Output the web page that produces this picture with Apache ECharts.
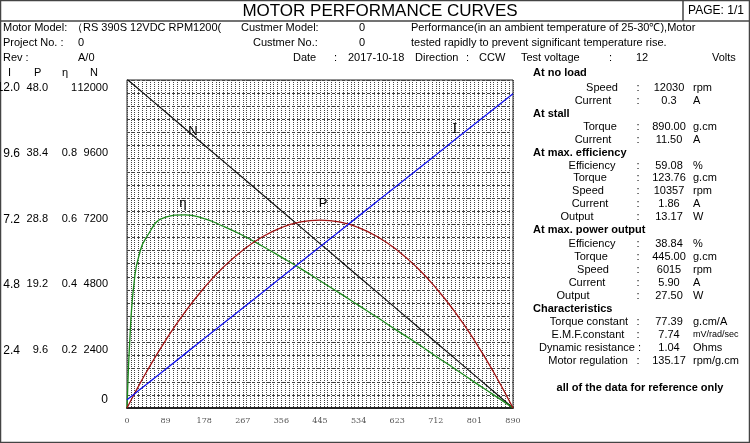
<!DOCTYPE html>
<html><head><meta charset="utf-8">
<script src="https://cdn.jsdelivr.net/npm/echarts@6/dist/echarts.min.js"></script>
<style>html,body{margin:0;padding:0;background:#fff}#c{width:750px;height:443px}</style>
</head><body><div id="c"></div>
<script>
// Torque (g.cm) sample points
const torque = [0, 8.9, 17.8, 26.7, 44.5, 89, 133.5, 178, 222.5, 267, 311.5, 356, 400.5, 445, 489.5, 534, 578.5, 623, 667.5, 712, 756.5, 801, 845.5, 890];
const speed =  [12030, 11910, 11790, 11669, 11429, 10827, 10226, 9624, 9023, 8421, 7820, 7218, 6617, 6015, 5414, 4812, 4211, 3609, 3008, 2406, 1805, 1203, 602, 0];
const current = [0.3, 0.41, 0.52, 0.64, 0.86, 1.42, 1.98, 2.54, 3.1, 3.66, 4.22, 4.78, 5.34, 5.9, 6.46, 7.02, 7.58, 8.14, 8.7, 9.26, 9.82, 10.38, 10.94, 11.5];
const power =  [0, 1.09, 2.16, 3.2, 5.23, 9.9, 14.03, 17.6, 20.63, 23.1, 25.03, 26.4, 27.23, 27.5, 27.23, 26.4, 25.03, 23.1, 20.63, 17.6, 14.03, 9.9, 5.23, 0];
const effic =  [0, 0.27, 0.40, 0.46, 0.52, 0.582, 0.589, 0.577, 0.554, 0.526, 0.494, 0.46, 0.425, 0.388, 0.351, 0.313, 0.275, 0.236, 0.198, 0.158, 0.119, 0.079, 0.04, 0];

const header = [
 ['Motor Model:',3,28],['（RS 390S 12VDC RPM1200(',72,28],['Custmer Model:',241,28],['0',359,28],['Performance(in an ambient temperature of 25-30℃),Motor',411,28],
 ['Project No. :',3,43],['0',78,43],['Custmer No.:',253,43],['0',359,43],['tested rapidly to prevent significant temperature rise.',411,43],
 ['Rev :',3,58],['A/0',78,58],['Date',293,58],[':',334,58],['2017-10-18',348,58],['Direction',415,58],[':',466,58],['CCW',479,58],['Test voltage',521,58],[':',609,58],['12',636,58],['Volts',712,58],
 ['I',8,73],['P',34,73],['η',62,73],['N',90,73]
];
const sections = [['At no load',73],['At stall',114],['At max. efficiency',153],['At max. power output',230],['Characteristics',309]];
const rows = [
 ['Speed',602,88,'12030','rpm'],['Current',593,101,'0.3','A'],
 ['Torque',600,127,'890.00','g.cm'],['Current',593,140,'11.50','A'],
 ['Efficiency',592,166,'59.08','%'],['Torque',590,178,'123.76','g.cm'],['Speed',588,191,'10357','rpm'],['Current',590,204,'1.86','A'],['Output',577,217,'13.17','W'],
 ['Efficiency',592,244,'38.84','%'],['Torque',591,257,'445.00','g.cm'],['Speed',593,270,'6015','rpm'],['Current',587,283,'5.90','A'],['Output',573,296,'27.50','W'],
 ['Torque constant',589,322,'77.39','g.cm/A'],['E.M.F.constant',588,335,'7.74','mV/rad/sec'],['Dynamic resistance :',590,348,'1.04','Ohms'],['Motor regulation',588,361,'135.17','rpm/g.cm']
];
const F = 'Liberation Sans, Arial, sans-serif';
const g = [];
g.push({type:'rect',shape:{x:0.5,y:0.5,width:749,height:442},style:{fill:'none',stroke:'#444',lineWidth:1.5}});
g.push({type:'line',shape:{x1:0,y1:21,x2:750,y2:21},style:{stroke:'#444',lineWidth:1.5}});
g.push({type:'line',shape:{x1:683,y1:0,x2:683,y2:21},style:{stroke:'#444',lineWidth:1.5}});
g.push({type:'text',x:380,y:11,style:{text:'MOTOR PERFORMANCE CURVES',font:'17px '+F,fill:'#000',textAlign:'center',textVerticalAlign:'middle'}});
g.push({type:'text',x:716,y:11,style:{text:'PAGE: 1/1',font:'12px '+F,fill:'#000',textAlign:'center',textVerticalAlign:'middle'}});
header.forEach(h=>g.push({type:'text',x:h[1],y:h[2],style:{text:h[0],font:'11px '+F,fill:'#000',textVerticalAlign:'middle'}}));
sections.forEach(s=>g.push({type:'text',x:533,y:s[1],style:{text:s[0],font:'bold 11px '+F,fill:'#000',textVerticalAlign:'middle'}}));
rows.forEach(r=>{
  g.push({type:'text',x:r[1],y:r[2],style:{text:r[0],font:'11px '+F,fill:'#000',textAlign:'center',textVerticalAlign:'middle'}});
  if(!r[0].endsWith(':')) g.push({type:'text',x:638,y:r[2],style:{text:':',font:'11px '+F,fill:'#000',textAlign:'center',textVerticalAlign:'middle'}});
  g.push({type:'text',x:669,y:r[2],style:{text:r[3],font:'11px '+F,fill:'#000',textAlign:'center',textVerticalAlign:'middle'}});
  g.push({type:'text',x:693,y:r[2],style:{text:r[4],font:(r[4]==='mV/rad/sec'?'9px ':'11px ')+F,fill:'#000',textVerticalAlign:'middle'}});
});
g.push({type:'text',x:640,y:388,style:{text:'all of the data for reference only',font:'bold 11px '+F,fill:'#000',textAlign:'center',textVerticalAlign:'middle'}});
g.push({type:'text',x:108,y:400,style:{text:'0',font:'12px '+F,fill:'#000',textAlign:'right',textVerticalAlign:'middle'}});

function pairs(arr){return torque.map((t,i)=>[t,arr[i]]);}
function yax(max,interval,margin,fmt,fs){
  return {type:'value',min:0,max:max,interval:interval,position:'left',
    axisLine:{show:false},axisTick:{show:false},splitLine:{show:false},
    axisLabel:{show:true,margin:margin,color:'#000',fontFamily:F,fontSize:fs||11,verticalAlign:'top',padding:[2,0,0,0],formatter:fmt}};
}
const chart = echarts.init(document.getElementById('c'),null,{renderer:'canvas'});
const nAxis = yax(12000,2400,19,v=>v===0?'':String(v));
nAxis.splitLine={show:true,lineStyle:{color:'#444',type:[3,2],width:1}};
nAxis.minorTick={show:false,splitNumber:5};
nAxis.minorSplitLine={show:true,lineStyle:{color:'#444',type:[3,2],width:1}};
chart.setOption({
  animation:false,
  graphic:g,
  grid:{left:127,top:80,width:386,height:328,show:true,borderColor:'#222',borderWidth:1,containLabel:false,outerBoundsMode:'none'},
  xAxis:{type:'value',min:0,max:890,interval:89,
    axisLine:{show:true,lineStyle:{color:'#222',width:2}},axisTick:{show:false},
    axisLabel:{color:'#555',fontFamily:'DejaVu Serif, serif',fontSize:8,margin:9},
    splitLine:{show:true,lineStyle:{color:'#444',type:[1,1]}},
    minorTick:{show:false,splitNumber:10},
    minorSplitLine:{show:true,lineStyle:{color:'#444',type:[1,1]}}},
  yAxis:[
    nAxis,
    yax(1,0.2,50,v=>v===0?'':(v===1?'1':v.toFixed(1))),
    yax(48,9.6,79,v=>v===0?'':v.toFixed(1)),
    yax(12,2.4,107,v=>v===0?'':v.toFixed(1),v=>10)
  ],
  series:[
    {type:'line',name:'N',yAxisIndex:0,data:pairs(speed),symbol:'none',lineStyle:{color:'#111',width:1.2},
     markPoint:{symbol:'circle',symbolSize:0,data:[{coord:[152,10134],label:{show:true,formatter:'N',color:'#000',fontSize:13,fontFamily:F}}]}},
    {type:'line',name:'eta',yAxisIndex:1,data:pairs(effic),symbol:'none',smooth:true,lineStyle:{color:'#1a8a1a',width:1.3},
     markPoint:{symbol:'circle',symbolSize:0,data:[{coord:[129,0.625],label:{show:true,formatter:'η',color:'#000',fontSize:13,fontFamily:F}}]}},
    {type:'line',name:'P',yAxisIndex:2,data:pairs(power),symbol:'none',smooth:true,lineStyle:{color:'#a01010',width:1.3},
     markPoint:{symbol:'circle',symbolSize:0,data:[{coord:[452,30],label:{show:true,formatter:'P',color:'#000',fontSize:13,fontFamily:F}}]}},
    {type:'line',name:'I',yAxisIndex:3,data:pairs(current),symbol:'none',lineStyle:{color:'#1010ee',width:1.3},
     markPoint:{symbol:'circle',symbolSize:0,data:[{coord:[756,10.2],label:{show:true,formatter:'I',color:'#000',fontSize:13,fontFamily:'DejaVu Serif, serif'}}]}}
  ]
});
</script></body></html>
